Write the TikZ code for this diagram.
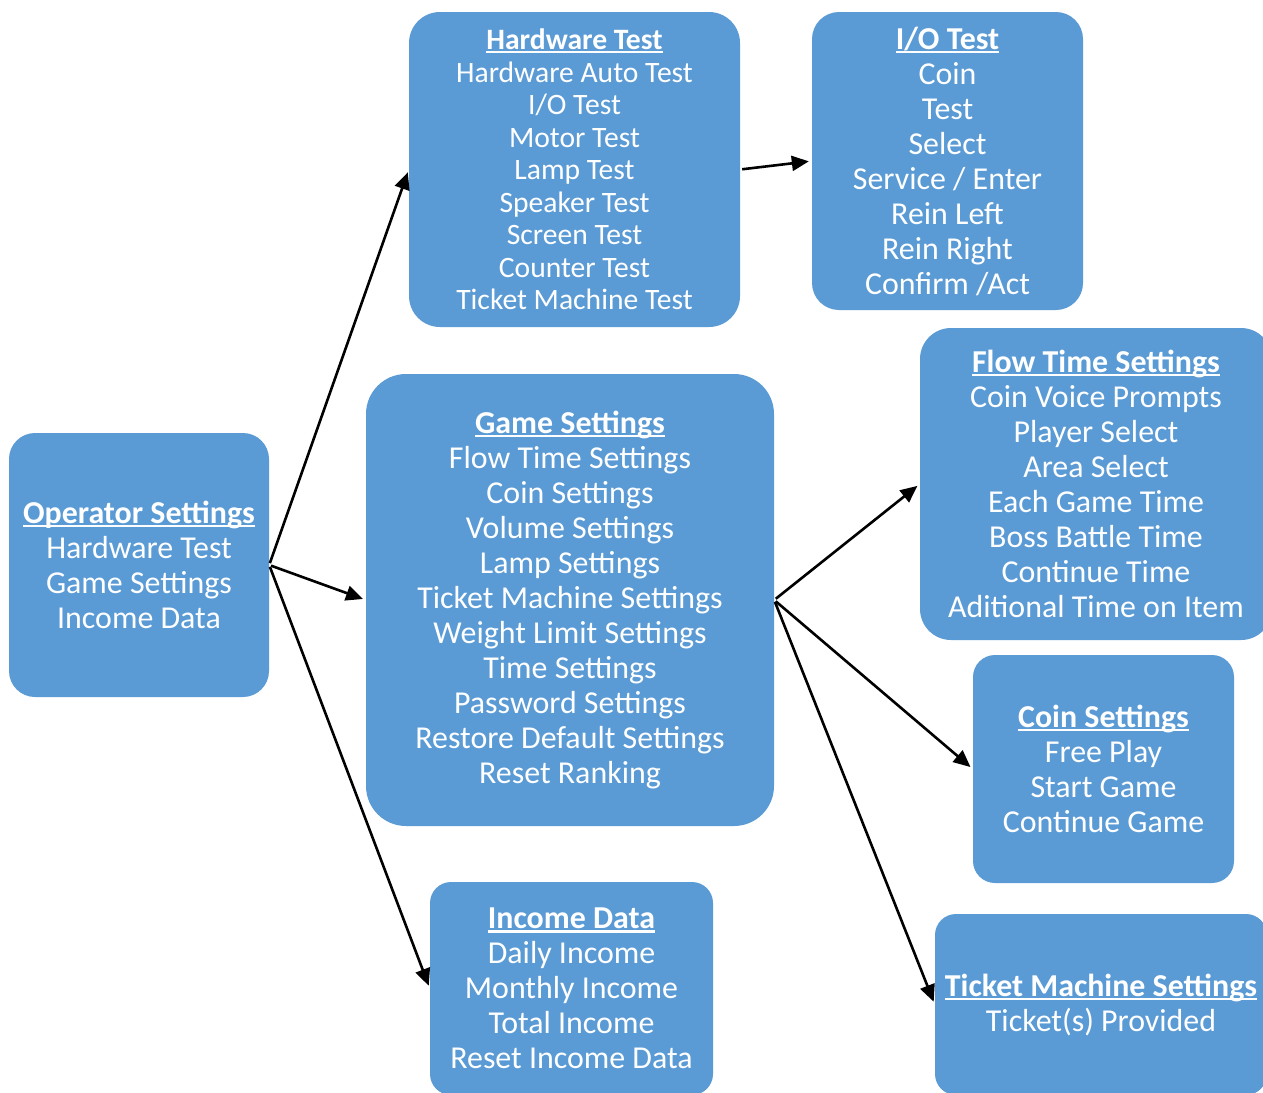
\documentclass[tikz,border=0pt]{standalone}
\usepackage{fontspec}
\setmainfont{Carlito}
\usetikzlibrary{arrows.meta}
\definecolor{boxblue}{HTML}{5B9BD5}
\newlength\ulw
\newcommand\myul[1]{\settowidth\ulw{\bfseries #1}\makebox[0pt][l]{\rule[-0.12em]{\ulw}{0.07em}}{\bfseries #1}}
\tikzset{
  box/.style={rounded corners=#1, fill=boxblue, text=white, align=center, inner sep=0pt,
    font=\fontsize{31.9}{35}\selectfont},
  box/.default=26pt,
  arr/.style={draw=black, line width=2.6pt, -{Triangle[length=17pt,width=15pt]}, shorten >=3pt, shorten <=2pt}
}
\begin{document}
\begin{tikzpicture}[x=1pt,y=-1pt]
\useasboundingbox (0,0) rectangle (1263,1092);
\clip (0,0) rectangle (1263,1092);
\fill[white] (0,0) rectangle (1263,1092);

\node[box=26pt, minimum width=260pt, minimum height=264pt] (op) at (139,565)
  {\myul{Operator Settings}\\Hardware Test\\Game Settings\\Income Data};

\node[box=31pt, minimum width=331pt, minimum height=315pt, font=\fontsize{29.6}{32.5}\selectfont] (hw) at (574.5,169.5)
  {\myul{Hardware Test}\\Hardware Auto Test\\I/O Test\\Motor Test\\Lamp Test\\Speaker Test\\Screen Test\\Counter Test\\Ticket Machine Test};

\node[box=27pt, minimum width=271pt, minimum height=298pt] (io) at (947.5,161)
  {\myul{I/O Test}\\Coin\\Test\\Select\\Service / Enter\\Rein Left\\Rein Right\\Confirm /Act};

\node[box=40pt, minimum width=408pt, minimum height=452pt] (gs) at (570,600)
  {\myul{Game Settings}\\Flow Time Settings\\Coin Settings\\Volume Settings\\Lamp Settings\\Ticket Machine Settings\\Weight Limit Settings\\Time Settings\\Password Settings\\Restore Default Settings\\Reset Ranking};

\node[box=31pt, minimum width=352pt, minimum height=312pt] (ft) at (1096,484)
  {\myul{Flow Time Settings}\\Coin Voice Prompts\\Player Select\\Area Select\\Each Game Time\\Boss Battle Time\\Continue Time\\Aditional Time on Item};

\node[box=22pt, minimum width=261pt, minimum height=228pt] (cs) at (1103.5,769)
  {\myul{Coin Settings}\\Free Play\\Start Game\\Continue Game};

\node[box=21pt, minimum width=283pt, minimum height=213pt] (id) at (571.5,988.5)
  {\myul{Income Data}\\Daily Income\\Monthly Income\\Total Income\\Reset Income Data};

\node[box=21pt, minimum width=332pt, minimum height=181pt] (tm) at (1101,1004.5)
  {\myul{Ticket Machine Settings}\\Ticket(s) Provided};

\draw[arr] (op.east) -- (hw.west);
\draw[arr] (op.east) -- (gs.west);
\draw[arr] (op.east) -- (id.west);
\draw[arr] (hw.east) -- (io.west);
\draw[arr] (gs.east) -- (ft.west);
\draw[arr] (gs.east) -- (cs.west);
\draw[arr] (gs.east) -- (tm.west);
\end{tikzpicture}
\end{document}
